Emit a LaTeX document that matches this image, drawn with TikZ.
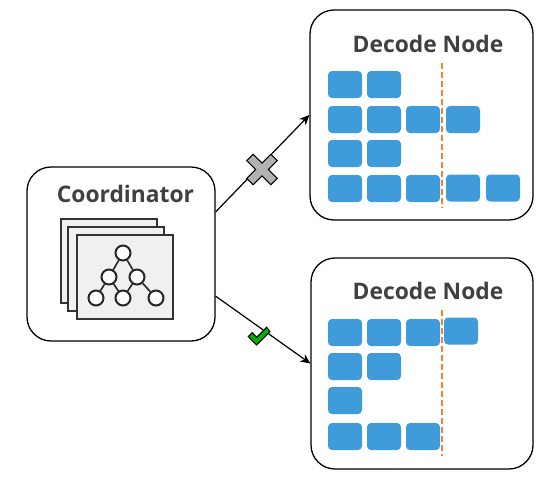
\documentclass[tikz,border=0pt]{standalone}
\usepackage{fontspec}
\setmainfont{Open Sans}
\usepackage{xcolor}
\usetikzlibrary{arrows.meta,positioning}
\definecolor{blockblue}{HTML}{3F9BDA}
\definecolor{titlegray}{HTML}{404040}
\definecolor{cutorange}{HTML}{F58233}

\begin{document}
\begin{tikzpicture}[
  x=1pt, y=-1pt,
  panel/.style={rectangle, draw, line width=1.3pt, rounded corners=24pt, fill=white, inner sep=0pt},
  title/.style={font=\bfseries\fontsize{22.8}{24}\selectfont, text=titlegray, inner sep=0pt},
  block/.style={rectangle, fill=blockblue, rounded corners=4pt, minimum width=34pt,
                minimum height=27pt, inner sep=0pt},
  sheet/.style={rectangle, draw=black!80, line width=2pt, fill=gray!12, minimum width=96pt,
                minimum height=84pt, inner sep=0pt},
  tnode/.style={circle, draw=black!85, line width=2pt, fill=white, minimum size=15pt, inner sep=0pt},
  tedge/.style={draw=black!85, line width=1.6pt},
  arr/.style={-{Stealth[length=10pt,width=9pt]}, line width=1.2pt},
  cut/.style={draw=cutorange, line width=1.6pt, dash pattern=on 5.5pt off 3.5pt}
]
\useasboundingbox (0,0) rectangle (548,480);

\node[panel, minimum width=188pt, minimum height=174pt] (coordinator) at (121,254) {};
\node[panel, minimum width=223pt, minimum height=210pt] (decodeA) at (421.5,115) {};
\node[panel, minimum width=222pt, minimum height=211pt] (decodeB) at (422,363.5) {};

\node[title] (coordtitle) at (125.5,194) {Coordinator};
\node[title] (titleA) at (428,44) {Decode Node};
\node[title] (titleB) at (428,291) {Decode Node};

% stacked sheets with the tree
\node[sheet] (sheet1) at (108.5,260.5) {};
\node[sheet] (sheet2) at (116,269) {};
\node[sheet] (sheet3) at (124.5,276.5) {};

\node[tnode] (t0) at (123,253) {};
\node[tnode] (t1) at (109,277) {};
\node[tnode] (t2) at (137,277) {};
\node[tnode] (t3) at (96,298) {};
\node[tnode] (t4) at (123,298) {};
\node[tnode] (t5) at (156,298) {};
\foreach \a/\b in {t0/t1,t0/t2,t1/t3,t1/t4,t2/t4,t2/t5}
  \draw[tedge] (\a) -- (\b);

% request queues
\foreach \x/\y in {345/84.5,384/84.5,
                   345/119.5,384/119.5,423/119.5,463/119.5,
                   345/153.5,384/153.5,
                   345/188.5,384/188.5,423/188.5,463/188,503/188}
  \node[block] (a\x-\y) at (\x,\y) {};
\foreach \x/\y in {345/332.5,384/332.5,423/332.5,461/331,
                   345/366.5,384/366.5,
                   345/400.5,
                   345/436.5,384/436.5,423/436.5}
  \node[block] (b\x-\y) at (\x,\y) {};

\coordinate (cutAtop) at (442,63);
\coordinate (cutAbot) at (442,208);
\coordinate (cutBtop) at (442,310);
\coordinate (cutBbot) at (442,456);
\draw[cut] (cutAtop) -- (cutAbot);
\draw[cut] (cutBtop) -- (cutBbot);

\draw[arr] (coordinator.24) -- (decodeA.west);
\draw[arr] (coordinator.-24) -- (decodeB.west);

% marks on the arrows
\draw[fill=gray!60, line width=1.1pt, shift={(262,169.5)}, rotate=45]
  (-4.5,-17) -- (4.5,-17) -- (4.5,-4.5) -- (17,-4.5) -- (17,4.5) -- (4.5,4.5) -- (4.5,17) -- (-4.5,17)
  -- (-4.5,4.5) -- (-17,4.5) -- (-17,-4.5) -- (-4.5,-4.5) -- cycle;
\draw[fill=green!70!black, line width=1.1pt]
  (248.3,336.7) -- (256.7,345) -- (270,331.7) -- (266.7,327.3) -- (256.7,337.3) -- (252.3,332.7) -- cycle;
\end{tikzpicture}
\end{document}
